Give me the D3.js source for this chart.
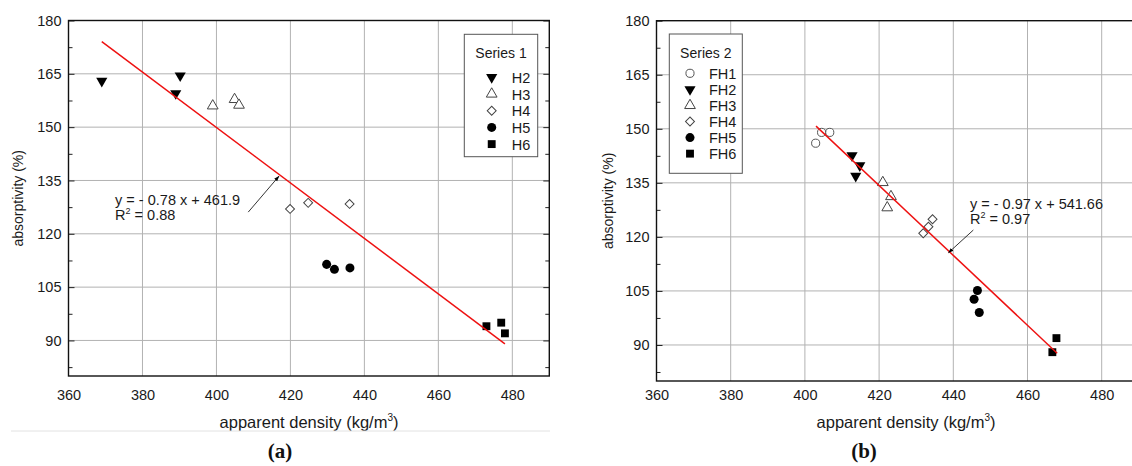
<!DOCTYPE html>
<html>
<head>
<meta charset="utf-8">
<script src="https://cdn.jsdelivr.net/npm/d3@7"></script>
<style>
  body { margin: 0; background: #fff; }
  svg { display: block; font-family: "Liberation Sans", Arial, sans-serif; }
</style>
</head>
<body>
<div id="chart"></div>
<script>
// axis ticks, same for both panels
var xTicks = [360, 380, 400, 420, 440, 460, 480];
var yTicks = [90, 105, 120, 135, 150, 165, 180];
var yMinor = [82.5, 97.5, 112.5, 127.5, 142.5, 157.5, 172.5];

// panel (a), Series 1 : [apparent density, absorptivity]
var h2 = [[369, 163], [389, 159.5], [390.2, 164.5]];
var h3 = [[399, 156], [404.9, 157.8], [406.1, 156.2]];
var h4 = [[419.9, 127], [424.8, 128.7], [436, 128.4]];
var h5 = [[429.8, 111.4], [431.9, 110], [436.1, 110.4]];
var h6 = [[473, 94], [477, 95], [478, 92]];
var fit1 = {slope: -0.78, intercept: 461.9, r2: "0.88", from: 369, to: 478};

// panel (b), Series 2
var fh1 = [[402.9, 146], [404.5, 149], [406.7, 149]];
var fh2 = [[412.7, 142.6], [414.8, 139.8], [413.7, 136.9]];
var fh3 = [[421, 135.1], [423.2, 131.2], [422.2, 128.1]];
var fh4 = [[431.9, 121], [433.3, 122.8], [434.4, 124.9]];
var fh5 = [[446.5, 105.1], [445.6, 102.7], [447, 99]];
var fh6 = [[467.8, 91.9], [466.7, 88]];
var fit2 = {slope: -0.97, intercept: 541.66, r2: "0.97", from: 403, to: 468};

var markers = {
  downFill:    {type: d3.symbolTriangle, size: 54, rotate: 180, fill: "#000", stroke: "none"},
  upOpen:      {type: d3.symbolTriangle, size: 50, rotate: 0, fill: "#fff", stroke: "#444"},
  diamondOpen: {type: d3.symbolSquare, size: 40, rotate: 45, fill: "#fff", stroke: "#444"},
  circleFill:  {type: d3.symbolCircle, size: 64, rotate: 0, fill: "#000", stroke: "none"},
  squareFill:  {type: d3.symbolSquare, size: 62, rotate: 0, fill: "#000", stroke: "none"},
  circleOpen:  {type: d3.symbolCircle, size: 52, rotate: 0, fill: "#fff", stroke: "#555"}
};

var panels = [
  {
    xRange: [68.5, 549.3], yRange: [376, 20.5],
    yLabelX: 18.5, caption: "a", captionX: 280, xLabelX: 309,
    legendTitle: "Series 1",
    legend: {x: 464.3, y: 34.3, w: 73.4, h: 122.4, titleY: 57.5, symX: 491.7, textX: 511.7, y0: 77.3, step: 16.7},
    series: [
      {name: "H2", data: h2, m: "downFill"},
      {name: "H3", data: h3, m: "upOpen"},
      {name: "H4", data: h4, m: "diamondOpen"},
      {name: "H5", data: h5, m: "circleFill"},
      {name: "H6", data: h6, m: "squareFill"}
    ],
    fit: fit1,
    note: {x: 372.6, y: 128, tail: [408.6, 126.1], tip: [416.9, 136.2]},
    separator: true
  },
  {
    xRange: [656.5, 1138.8], yRange: [381, 20.7],
    yLabelX: 608.5, caption: "b", captionX: 864, xLabelX: 906,
    legendTitle: "Series 2",
    legend: {x: 669.3, y: 34, w: 73, h: 139.3, titleY: 57.5, symX: 690, textX: 709, y0: 73.3, step: 16.07},
    series: [
      {name: "FH1", data: fh1, m: "circleOpen"},
      {name: "FH2", data: fh2, m: "downFill"},
      {name: "FH3", data: fh3, m: "upOpen"},
      {name: "FH4", data: fh4, m: "diamondOpen"},
      {name: "FH5", data: fh5, m: "circleFill"},
      {name: "FH6", data: fh6, m: "squareFill"}
    ],
    fit: fit2,
    note: {x: 444.5, y: 127.8, tail: [445.4, 121.9], tip: [438.7, 115.6]},
    separator: false
  }
];

var svg = d3.select("#chart").append("svg")
  .attr("width", 1132)
  .attr("height", 466);

svg.append("defs").append("marker")
  .attr("id", "arrow")
  .attr("viewBox", "0 0 10 10")
  .attr("refX", 9).attr("refY", 5)
  .attr("markerWidth", 7).attr("markerHeight", 7)
  .attr("orient", "auto")
  .append("path")
  .attr("d", "M0,1.5 L10,5 L0,8.5 Z")
  .attr("fill", "#000");

function symbolPath(m) {
  return d3.symbol().type(markers[m].type).size(markers[m].size)();
}

function drawMarker(sel, m, px, py) {
  var st = markers[m];
  sel.append("path")
    .attr("d", symbolPath(m))
    .attr("transform", "translate(" + px + "," + py + ") rotate(" + st.rotate + ")")
    .attr("fill", st.fill)
    .attr("stroke", st.stroke)
    .attr("stroke-width", 1);
}

function drawPanel(p) {
  var x = d3.scaleLinear().domain([360, 490]).range(p.xRange);
  var y = d3.scaleLinear().domain([80, 180]).range(p.yRange);
  var g = svg.append("g");

  // grid
  g.append("g").selectAll("line")
    .data(xTicks.slice(1))
    .join("line")
    .attr("x1", d => x(d)).attr("x2", d => x(d))
    .attr("y1", y(80)).attr("y2", y(180))
    .attr("stroke", "#b2b2b2").attr("stroke-width", 1);
  g.append("g").selectAll("line")
    .data(yTicks.slice(0, -1))
    .join("line")
    .attr("x1", x(360)).attr("x2", x(490))
    .attr("y1", d => y(d)).attr("y2", d => y(d))
    .attr("stroke", "#b2b2b2").attr("stroke-width", 1);

  // y axis, ticks pointing inward
  g.append("g")
    .attr("transform", "translate(" + x(360) + ",0)")
    .call(d3.axisLeft(y).tickValues(yTicks).tickSize(-6).tickPadding(7));
  g.append("g")
    .attr("transform", "translate(" + x(360) + ",0)")
    .call(d3.axisLeft(y).tickValues(yMinor).tickSize(-4).tickFormat(""));
  g.append("g")
    .attr("transform", "translate(" + x(490) + ",0)")
    .call(d3.axisRight(y).tickValues(yTicks).tickSize(-6).tickFormat(""));
  g.append("g")
    .attr("transform", "translate(" + x(490) + ",0)")
    .call(d3.axisRight(y).tickValues(yMinor).tickSize(-4).tickFormat(""));

  g.append("g")
    .attr("transform", "translate(0," + y(80) + ")")
    .call(d3.axisBottom(x).tickValues(xTicks).tickSize(0).tickPadding(395 - 5 - y(80)));

  g.selectAll(".domain").remove();
  g.selectAll(".tick line").attr("stroke", "#222").attr("stroke-width", 1);
  g.selectAll(".tick text").attr("fill", "#1a1a1a").style("font-size", "14.5px")
    .style("font-family", "Liberation Sans, Arial, sans-serif");

  // frame
  g.append("rect")
    .attr("x", x(360)).attr("y", y(180))
    .attr("width", x(490) - x(360)).attr("height", y(80) - y(180))
    .attr("fill", "none").attr("stroke", "#111").attr("stroke-width", 1.4);

  // points
  p.series.forEach(function(s) {
    var sg = g.append("g");
    s.data.forEach(function(d) {
      drawMarker(sg, s.m, x(d[0]), y(d[1]));
    });
  });

  // regression line
  var f = p.fit;
  g.append("line")
    .attr("x1", x(f.from)).attr("y1", y(f.slope * f.from + f.intercept))
    .attr("x2", x(f.to)).attr("y2", y(f.slope * f.to + f.intercept))
    .attr("stroke", "#ee1111").attr("stroke-width", 1.5);

  // equation note + arrow
  var n = p.note;
  g.append("text")
    .attr("x", x(n.x)).attr("y", y(n.y))
    .style("font-size", "14.5px").attr("fill", "#1a1a1a")
    .text("y = - " + Math.abs(f.slope) + " x + " + f.intercept);
  var r2 = g.append("text")
    .attr("x", x(n.x)).attr("y", y(n.y) + 14.8)
    .style("font-size", "14.5px").attr("fill", "#1a1a1a");
  r2.append("tspan").text("R");
  r2.append("tspan").attr("dy", -6).style("font-size", "9px").text("2");
  r2.append("tspan").attr("dy", 6).text(" = " + f.r2);
  g.append("line")
    .attr("x1", x(n.tail[0])).attr("y1", y(n.tail[1]))
    .attr("x2", x(n.tip[0])).attr("y2", y(n.tip[1]))
    .attr("stroke", "#000").attr("stroke-width", 0.8)
    .attr("marker-end", "url(#arrow)");

  // legend
  var L = p.legend;
  var lg = g.append("g");
  lg.append("rect")
    .attr("x", L.x).attr("y", L.y).attr("width", L.w).attr("height", L.h)
    .attr("fill", "#fff").attr("stroke", "#555").attr("stroke-width", 1);
  lg.append("text")
    .attr("x", L.x + L.w / 2).attr("y", L.titleY)
    .attr("text-anchor", "middle").style("font-size", "14px").attr("fill", "#1a1a1a")
    .text(p.legendTitle);
  p.series.forEach(function(s, i) {
    var yy = L.y0 + i * L.step;
    drawMarker(lg, s.m, L.symX, yy);
    lg.append("text")
      .attr("x", L.textX).attr("y", yy + 5.5)
      .style("font-size", "14.5px").attr("fill", "#1a1a1a")
      .text(s.name);
  });

  // axis titles
  var xm = svg.append("text")
    .attr("x", p.xLabelX).attr("y", 427.5)
    .attr("text-anchor", "middle")
    .style("font-size", "16.5px").attr("fill", "#1a1a1a");
  xm.append("tspan").text("apparent density (kg/m");
  xm.append("tspan").attr("dy", -7).style("font-size", "10px").text("3");
  xm.append("tspan").attr("dy", 7).text(")");

  var ymid = (p.yRange[0] + p.yRange[1]) / 2;
  svg.append("text")
    .attr("transform", "translate(" + p.yLabelX + "," + ymid + ") rotate(-90)")
    .attr("text-anchor", "middle").attr("dy", "0.35em")
    .style("font-size", "14px").attr("fill", "#1a1a1a")
    .text("absorptivity (%)");

  if (p.separator) {
    svg.append("line")
      .attr("x1", 11).attr("x2", 550).attr("y1", 431).attr("y2", 431)
      .attr("stroke", "#e2e2e2").attr("stroke-width", 1);
  }

  // caption (a)/(b)
  svg.append("text")
    .attr("x", p.captionX).attr("y", 458)
    .attr("text-anchor", "middle")
    .style("font-family", "Liberation Serif, DejaVu Serif, serif")
    .style("font-weight", "bold")
    .style("font-size", "21px").attr("fill", "#111")
    .text("(" + p.caption + ")");
}

panels.forEach(drawPanel);
</script>
</body>
</html>
